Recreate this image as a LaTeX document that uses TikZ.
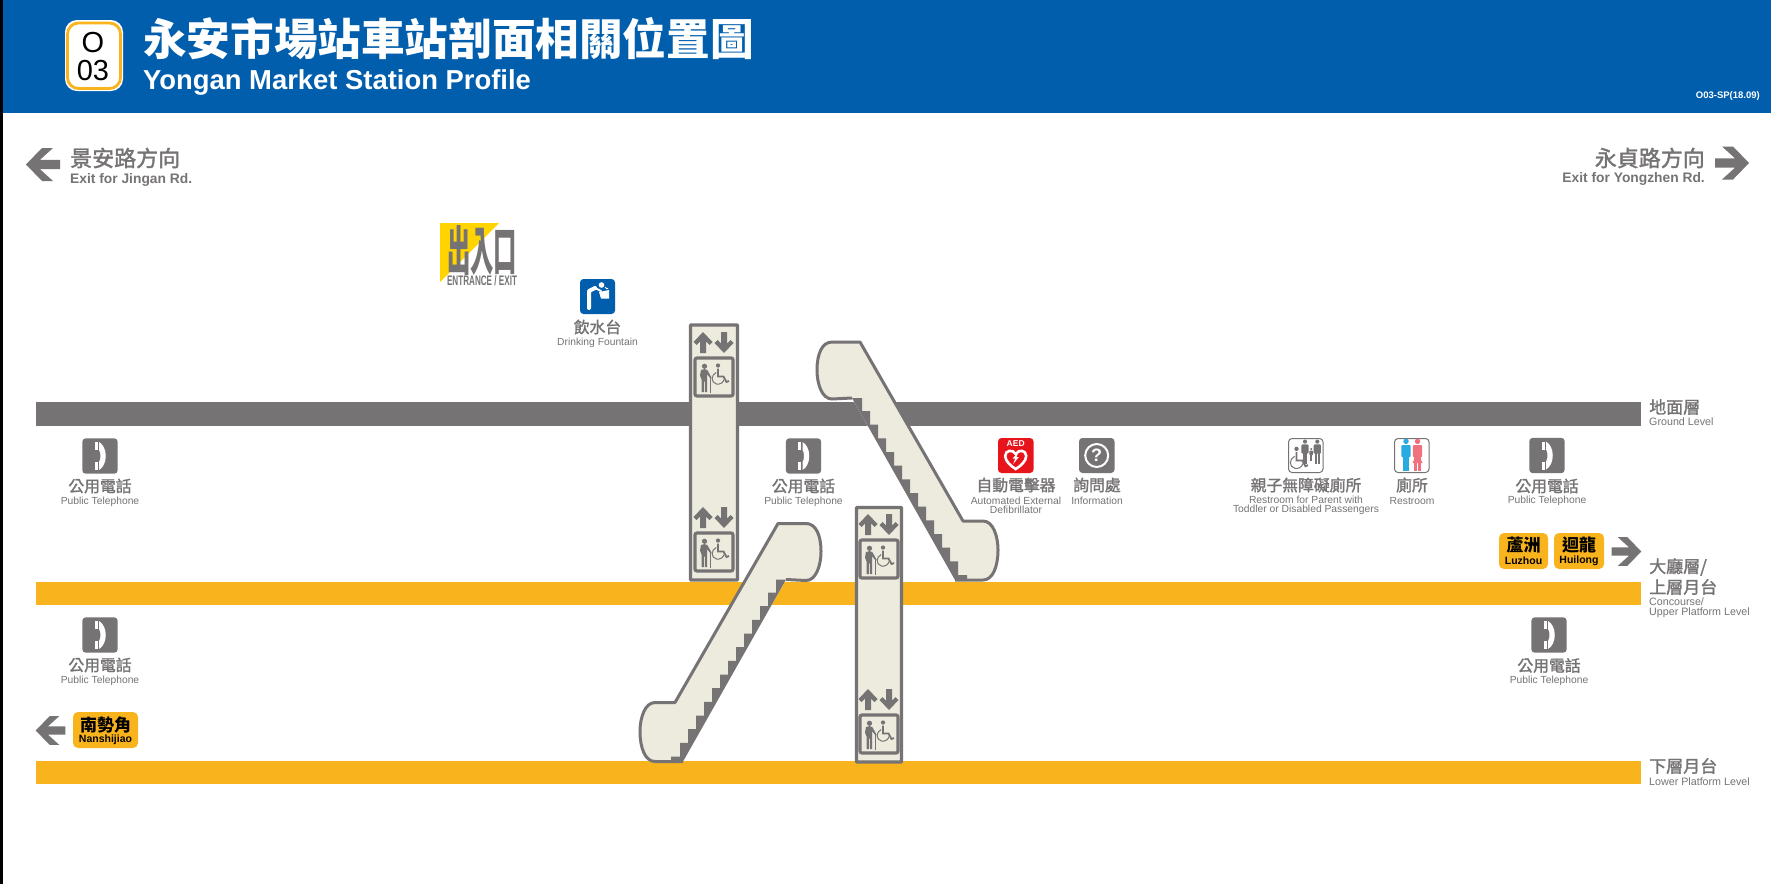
\documentclass[tikz,border=0pt]{standalone}
\usepackage{fontspec}
\setmainfont{Liberation Sans}
\newfontfamily\cjk{Noto Sans CJK TC}
\newfontfamily\cjkm[FakeBold=1.6]{Noto Sans CJK TC}
\definecolor{gy}{HTML}{767374}
\definecolor{blu}{HTML}{005EAD}
\definecolor{org}{HTML}{F9B31C}
\definecolor{crm}{HTML}{ECEBDD}
\definecolor{yel}{HTML}{FFD400}
\definecolor{aedred}{HTML}{E8141C}
\definecolor{mancol}{HTML}{29ABE2}
\definecolor{womcol}{HTML}{F0727F}
\newcommand{\fsz}[1]{\fontsize{#1}{#1}\selectfont}
\tikzset{
  zh/.style={font=\cjkm\fontsize{15.8}{16}\selectfont,text=gy,inner sep=0pt},
  zhl/.style={font=\cjkm\fontsize{17}{17}\selectfont,text=gy,inner sep=0pt,anchor=west},
  en/.style={font=\fontsize{10.3}{9}\selectfont,text=gy,align=center,inner sep=0pt},
  enl/.style={font=\fontsize{10.7}{10}\selectfont,text=gy,align=left,inner sep=0pt,anchor=west},
  liftbox/.style={draw=gy,fill=crm,line width=3.4pt,rounded corners=0.8pt},
  badge/.style={fill=org,draw=none,rounded corners=5pt},
  bk/.style={font=\cjk\bfseries\fontsize{17}{17}\selectfont,text=black,inner sep=0pt},
  be/.style={font=\bfseries\fontsize{10.5}{10}\selectfont,text=black,inner sep=0pt},
  escal/.pic={
    \path[fill=crm] (0,0) -- (103,179) -- (123,179) .. controls (133,179) and (138,194) .. (138,208) .. controls (138,224) and (133,238) .. (123,238) -- (95,238) -- (-8,56) -- (-28,57) .. controls (-38,57) and (-43,42) .. (-43,28) .. controls (-43,12) and (-38,0) .. (-28,0) -- cycle;
    \fill[gy] (-8,56) -- (2,56) \foreach \a/\b/\c in {2/69/10,10/82.7/18,18/96.3/26,26/110/34,34/123.7/42,42/137.3/50,50/151/58,58/164.7/66,66/178.3/74,74/192/82,82/205.7/90,90/219.3/98}{ -- (\a,\b) -- (\c,\b)} -- (98,233) -- (107,233) -- (107,238) -- (95,238) -- cycle;
    \draw[gy,line width=3pt,line join=round] (-8,56) -- (-28,57) .. controls (-38,57) and (-43,42) .. (-43,28) .. controls (-43,12) and (-38,0) .. (-28,0) -- (0,0) -- (103,179) -- (123,179) .. controls (133,179) and (138,194) .. (138,208) .. controls (138,224) and (133,238) .. (123,238) -- (95,238);
  },
  wheelch/.pic={
    \fill[gy] (0,-12) circle (2.1);
    \draw[gy,line width=1.8pt] (0,-9) -- (0,-1) -- (5.5,-1) -- (8.5,4.5) -- (11,3.5);
    \draw[gy,line width=1pt] (-1.8,-5) .. controls (-7,-2.5) and (-7.5,5) .. (-1.5,6.5) .. controls (2,7.2) and (5.5,5) .. (6,2);
  },
  walker/.pic={
    \fill[gy] (0,-11.2) circle (2.6);
    \fill[gy] (-3.5,-7.5) -- (0,-8.4) -- (2.8,-7.5) -- (7,0) -- (6,1) -- (2.5,-3.5) -- (2.5,14.5) -- (0.4,14.5) -- (0.4,4) -- (-0.6,4) -- (-0.6,14.5) -- (-3,14.5) -- (-3,2) -- (-4.5,-2) -- cycle;
    \draw[gy,line width=0.8pt] (6,0) -- (6,15);
  },
  liftico/.pic={
    \fill[gy] (9,-25) -- (18.5,-15) -- (15.5,-12) -- (12,-15.5) -- (12,-4) -- (6,-4) -- (6,-15.5) -- (2.5,-12) -- (-0.5,-15) -- cycle;
    \fill[gy] (30,-4) -- (20.5,-14) -- (23.5,-17) -- (27,-13.5) -- (27,-25) -- (33,-25) -- (33,-13.5) -- (36.5,-17) -- (39.5,-14) -- cycle;
    \draw[gy,line width=3.2pt,rounded corners=2pt] (1,1) rectangle (39,39);
    \pic at (10.5,20.5) {walker};
    \pic at (24,20.5) {wheelch};
  },
  bigarrow/.pic={
    \fill[gy] (-17,0) -- (-1,-16.5) -- (10,-16.5) -- (-3,-4.7) -- (17,-4.7) -- (17,4.7) -- (-3,4.7) -- (10,16.5) -- (-1,16.5) -- cycle;
  },
  phoneico/.pic={
    \fill[gy,rounded corners=3.5pt] (-17.7,-17.7) rectangle (17.7,17.7);
    \fill[white] (-5.5,-14) rectangle (-2.3,-6);
    \fill[white] (-5.5,6) rectangle (-2.3,14);
    \fill[white] (-1,-14) .. controls (8,-9) and (8,9) .. (-1,14) -- (-1,6) .. controls (1,4) and (1,-4) .. (-1,-6) -- cycle;
  },
  fig/.pic={
    \fill[pic actions] (0,-13) circle (2.6);
    \fill[pic actions,rounded corners=1pt] (-4.5,-9.5) rectangle (4.5,2);
    \fill[pic actions] (-2.9,0) rectangle (-0.3,15);
    \fill[pic actions] (0.3,0) rectangle (2.9,15);
  },
}
\begin{document}
\begin{tikzpicture}[x=1pt,y=-1pt]
\useasboundingbox (0,0) rectangle (1771,884);
% frame and header
\fill[white] (0,0) rectangle (1771,884);
\fill[black] (0,0) rectangle (3,884);
\fill[blu] (3,0) rectangle (1771,113);
\fill[white,rounded corners=12pt] (65,20) rectangle (123,91);
\draw[org,line width=2.8pt,rounded corners=11pt] (67.5,23) rectangle (120.5,88.5);
\node[font=\fsz{29},inner sep=0pt] (badgeO) at (93,43) {O};
\node[font=\fsz{29},inner sep=0pt] (badge03) at (93,70.5) {03};
\node[anchor=west,inner sep=0pt,text=white,font=\cjk\bfseries\fontsize{43.6}{44}\selectfont] (title) at (143,39) {永安市場站車站剖面相關位置圖};
\node[anchor=west,inner sep=0pt,text=white,font=\bfseries\fontsize{27.4}{28}\selectfont] (titleen) at (143,82.5) {Yongan Market Station Profile};
\node[anchor=east,inner sep=0pt,text=white,font=\bfseries\fontsize{9.5}{10}\selectfont] (code) at (1760,96) {O03-SP(18.09)};
% exits
\pic at (43,164.5) {bigarrow};
\node[anchor=west,inner sep=0pt,text=gy,font=\cjkm\fontsize{22}{22}\selectfont] (exL) at (70,158) {景安路方向};
\node[anchor=west,inner sep=0pt,text=gy,font=\bfseries\fontsize{13.8}{14}\selectfont] (exLe) at (70,179.5) {Exit for Jingan Rd.};
\pic[xscale=-1] at (1732,163) {bigarrow};
\node[anchor=east,inner sep=0pt,text=gy,font=\cjkm\fontsize{22}{22}\selectfont] (exR) at (1705,158) {永貞路方向};
\node[anchor=east,inner sep=0pt,text=gy,font=\bfseries\fontsize{13.8}{14}\selectfont] (exRe) at (1705,179) {Exit for Yongzhen Rd.};
% entrance
\fill[yel] (440,223) -- (499,223) -- (440,282) -- cycle;
\node[inner sep=0pt,text=gy,font=\cjk\bfseries\fontsize{40}{40}\selectfont] (ent) at (482,250.5) {\resizebox{70pt}{45pt}{出入口}};
\node[inner sep=0pt,text=gy,font=\bfseries\fsz{14}] (ente) at (482,281) {\resizebox{70pt}{10pt}{ENTRANCE / EXIT}};
% bands
\fill[gy] (36,402) rectangle (1641,426);
\fill[org] (36,582) rectangle (1641,605);
\fill[org] (36,761) rectangle (1641,784);
% lifts
\draw[liftbox] (690.5,325) rectangle (737.5,580);
\draw[liftbox] (856.5,507.5) rectangle (901.5,762);
\pic at (694,357) {liftico};
\pic at (694,532) {liftico};
\pic at (859,539) {liftico};
\pic at (859,714) {liftico};
% escalators
\pic at (860,342) {escal};
\pic[xscale=-1] at (778,523.5) {escal};
% drinking fountain
\fill[blu,rounded corners=3.5pt] (580,279) rectangle (615,314);
\draw[white,line width=4pt,line cap=round,line join=round] (589,308) -- (589,291) -- (595,288);
\fill[white] (601.5,285) circle (2.8);
\draw[white,line width=2pt,line cap=round] (595,288) -- (601,291);
\fill[white] (599,292) -- (609,290) -- (609,298.5) -- (601,298.5) -- cycle;
\draw[white,line width=0.8pt] (605,287) arc (180:40:1.8);
\node[zh] (drink) at (597.5,327) {飲水台};
\node[en] (drinke) at (597.5,342.5) {Drinking Fountain};
% telephones
\pic at (100,456) {phoneico};
\node[zh] (t1) at (100,486) {公用電話};
\node[en] (t1e) at (100,501.5) {Public Telephone};
\pic at (100,635) {phoneico};
\node[zh] (t2) at (100,665) {公用電話};
\node[en] (t2e) at (100,680.5) {Public Telephone};
\pic at (803.5,456) {phoneico};
\node[zh] (t3) at (803.5,486) {公用電話};
\node[en] (t3e) at (803.5,501.5) {Public Telephone};
\pic at (1547,455.5) {phoneico};
\node[zh] (t4) at (1547,486) {公用電話};
\node[en] (t4e) at (1547,501) {Public Telephone};
\pic at (1549,635) {phoneico};
\node[zh] (t5) at (1549,665.5) {公用電話};
\node[en] (t5e) at (1549,681) {Public Telephone};
% AED
\fill[aedred,rounded corners=3.5pt] (998,438) rectangle (1033.5,473);
\node[inner sep=0pt,text=white,font=\bfseries\fontsize{8.5}{9}\selectfont] (aedtxt) at (1015.7,444) {AED};
\begin{scope}[shift={(1015.7,458)}]
\draw[white,line width=2.6pt,fill=aedred] (0,11) .. controls (-5,8) and (-10.5,3) .. (-10.5,-2) .. controls (-10.5,-8) and (-3,-9) .. (0,-4) .. controls (3,-9) and (10.5,-8) .. (10.5,-2) .. controls (10.5,3) and (5,8) .. (0,11) -- cycle;
\fill[white] (2.5,-6) -- (-3,0.5) -- (-0.5,0.5) -- (-2.5,6) -- (3.2,-1) -- (0.8,-1) -- cycle;
\end{scope}
\node[zh] (aed) at (1016,485) {自動電擊器};
\node[en] (aede) at (1016,505) {Automated External\\Defibrillator};
% information
\fill[gy,rounded corners=3.5pt] (1079,438) rectangle (1114.5,473);
\draw[white,line width=2pt] (1096.7,455.5) circle (11.5);
\node[inner sep=0pt,text=white,font=\bfseries\fontsize{18}{18}\selectfont] (infoq) at (1096.7,455.5) {?};
\node[zh] (info) at (1097,485) {詢問處};
\node[en] (infoe) at (1097,500.5) {Information};
% family restroom
\draw[gy,line width=1pt,fill=white,rounded corners=3.5pt] (1288.5,438.5) rectangle (1323,472.5);
\begin{scope}[shift={(1306,455)}]
\pic[gy,scale=0.8] at (-1,-3) {fig};
\pic[gy,scale=0.8] at (11.3,-3) {fig};
\pic[gy,scale=0.42] at (5.2,-0.5) {fig};
\pic[scale=1.05] at (-9.5,6.5) {wheelch};
\end{scope}
\node[zh] (fam) at (1306,485) {親子無障礙廁所};
\node[en] (fame) at (1306,505) {Restroom for Parent with\\Toddler or Disabled Passengers};
% restroom
\draw[gy,line width=1pt,fill=white,rounded corners=3.5pt] (1394.5,438.5) rectangle (1429,472.5);
\pic[mancol,scale=1.05] at (1406,455) {fig};
\pic[womcol,scale=1.05] at (1417.5,455) {fig};
\fill[womcol] (1417.5,452) -- (1422.5,463) -- (1412.5,463) -- cycle;
\node[zh] (wc) at (1412,485) {廁所};
\node[en] (wce) at (1412,500.5) {Restroom};
% destinations
\fill[badge] (1499,533) rectangle (1548,569);
\fill[badge] (1554,533) rectangle (1604,569);
\node[bk] (d1) at (1523.5,545) {蘆洲};
\node[be] (d1e) at (1523.5,560.5) {Luzhou};
\node[bk] (d2) at (1579,545) {迴龍};
\node[be] (d2e) at (1579,560.5) {Huilong};
\pic[xscale=-0.87,yscale=0.87] at (1626.5,551.5) {bigarrow};
\fill[badge] (73,712) rectangle (138,748);
\node[bk] (d3) at (105.5,725) {南勢角};
\node[be] (d3e) at (105.5,740) {Nanshijiao};
\pic[scale=0.87] at (50.5,730.5) {bigarrow};
% level labels
\node[zhl] (l1) at (1649,407) {地面層};
\node[enl] (l1e) at (1649,422) {Ground Level};
\node[zhl] (l2a) at (1649,567) {大廳層/};
\node[zhl] (l2b) at (1649,587) {上層月台};
\node[enl] (l2e) at (1649,608) {Concourse/\\Upper Platform Level};
\node[zhl] (l3) at (1649,766) {下層月台};
\node[enl] (l3e) at (1649,782) {Lower Platform Level};
\end{tikzpicture}
\end{document}
